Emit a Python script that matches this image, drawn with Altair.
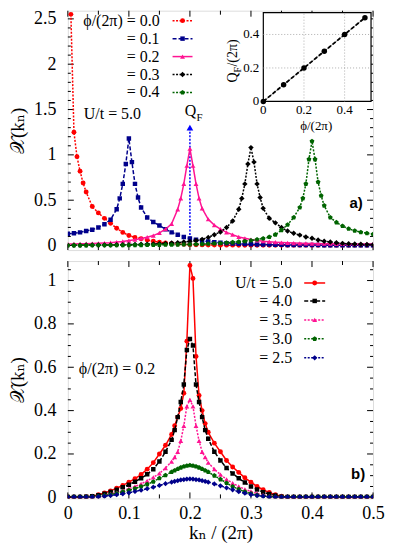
import altair as alt
import pandas as pd

FONT = "Liberation Serif, DejaVu Serif, serif"
W, H_TOP, H_BOT = 306, 240, 238

# ---------------- data: panel a) (U/t = 5.0) ----------------
K_BASE = [0.00, 0.01, 0.02, 0.03, 0.04, 0.05, 0.06, 0.07, 0.08, 0.09,
          0.10, 0.11, 0.12, 0.13, 0.14, 0.15, 0.16, 0.17, 0.18, 0.19,
          0.20, 0.21, 0.22, 0.23, 0.24, 0.25, 0.26, 0.27, 0.28, 0.29,
          0.30, 0.31, 0.32, 0.33, 0.34, 0.35, 0.36, 0.37, 0.38, 0.39,
          0.40, 0.41, 0.42, 0.43, 0.44, 0.45, 0.46, 0.47, 0.48, 0.49, 0.50]

PHI00 = [None, 1.25, 0.82, 0.59, 0.43, 0.36, 0.30, 0.245, 0.19, 0.145,
         0.11, 0.09, 0.075, 0.06, 0.047, 0.037, 0.029, 0.022, 0.017, 0.013,
         0.010, 0.008, 0.007, 0.006, 0.005, 0.004, 0.004, 0.004, 0.003, 0.003,
         0.003, 0.003, 0.003, 0.003, 0.002, 0.002, 0.002, 0.002, 0.002, 0.002,
         0.002, 0.002, 0.002, 0.002, 0.002, 0.002, 0.002, 0.002, 0.002, 0.002, 0.002]
PHI00_XK = [0.005, 0.015, 0.025]
PHI00_XV = [2.55, 0.98, 0.69]

PHI01 = [0.13, 0.135, 0.145, 0.16, 0.175, 0.20, 0.235, 0.285, 0.40, 0.68,
         1.18, 0.68, 0.42, 0.31, 0.26, 0.22, 0.18, 0.145, 0.12, 0.095,
         0.078, 0.064, 0.053, 0.044, 0.037, 0.031, 0.026, 0.022, 0.019, 0.016,
         0.014, 0.012, 0.011, 0.010, 0.009, 0.008, 0.007, 0.006, 0.006, 0.005,
         0.005, 0.005, 0.004, 0.004, 0.004, 0.004, 0.004, 0.004, 0.004, 0.004, 0.004]
PHI01_XK = [0.085, 0.095, 0.105, 0.115]
PHI01_XV = [0.52, 0.90, 0.92, 0.53]

PHI02 = [0.018, 0.018, 0.019, 0.020, 0.022, 0.025, 0.028, 0.032, 0.038, 0.045,
         0.055, 0.065, 0.078, 0.092, 0.11, 0.14, 0.18, 0.24, 0.40, 0.68,
         1.07, 0.68, 0.41, 0.29, 0.225, 0.18, 0.145, 0.12, 0.095, 0.08,
         0.066, 0.056, 0.048, 0.042, 0.037, 0.033, 0.030, 0.027, 0.025, 0.023,
         0.022, 0.021, 0.020, 0.020, 0.019, 0.019, 0.019, 0.018, 0.018, 0.018, 0.018]
PHI02_XK = [0.185, 0.195, 0.205, 0.215]
PHI02_XV = [0.52, 0.88, 0.88, 0.52]

PHI03 = [0.004, 0.004, 0.004, 0.005, 0.005, 0.006, 0.006, 0.007, 0.008, 0.009,
         0.010, 0.011, 0.013, 0.015, 0.017, 0.020, 0.023, 0.027, 0.032, 0.038,
         0.045, 0.055, 0.068, 0.09, 0.12, 0.15, 0.20, 0.27, 0.40, 0.68,
         1.08, 0.68, 0.41, 0.30, 0.25, 0.20, 0.16, 0.135, 0.115, 0.095,
         0.08, 0.06, 0.048, 0.038, 0.030, 0.024, 0.019, 0.016, 0.013, 0.011, 0.010]
PHI03_XK = [0.285, 0.295, 0.305, 0.315]
PHI03_XV = [0.52, 0.90, 0.92, 0.53]

PHI04 = [0.002, 0.002, 0.002, 0.002, 0.003, 0.003, 0.003, 0.003, 0.004, 0.004,
         0.004, 0.005, 0.005, 0.006, 0.006, 0.007, 0.008, 0.009, 0.010, 0.011,
         0.012, 0.014, 0.016, 0.019, 0.022, 0.026, 0.030, 0.035, 0.041, 0.048,
         0.056, 0.066, 0.078, 0.094, 0.12, 0.17, 0.23, 0.31, 0.42, 0.68,
         1.15, 0.70, 0.44, 0.31, 0.255, 0.215, 0.185, 0.163, 0.147, 0.135, 0.125]
PHI04_XK = [0.385, 0.395, 0.405, 0.415]
PHI04_XV = [0.52, 0.95, 0.95, 0.55]

PHI_LABELS = ["ϕ/(2π) = 0.0", "= 0.1", "= 0.2", "= 0.3", "= 0.4"]

# Q_F arrow position
QF_K = [0.2]
QF_TOP = [1.3]

# inset: Q_F vs phi
INSET_PHI = [0.0, 0.1, 0.2, 0.3, 0.4, 0.5]
INSET_QF = [0.0, 0.1, 0.2, 0.3, 0.4, 0.5]
INSET_TICKS = [0, 0.2, 0.4]

# ---------------- data: panel b) (phi/(2pi) = 0.2) ----------------
K_B = [0.00, 0.01, 0.02, 0.03, 0.04, 0.05, 0.06, 0.07, 0.08, 0.09,
       0.10, 0.11, 0.12, 0.13, 0.14, 0.15, 0.16, 0.17,
       0.175, 0.18, 0.185, 0.19, 0.195, 0.20, 0.205, 0.21, 0.215, 0.22, 0.225,
       0.23, 0.24, 0.25, 0.26, 0.27, 0.28, 0.29, 0.30, 0.31, 0.32,
       0.33, 0.34, 0.35, 0.36, 0.37, 0.38, 0.39, 0.40, 0.41, 0.42,
       0.43, 0.44, 0.45, 0.46, 0.47, 0.48, 0.49, 0.50]

U50 = [0.002, 0.002, 0.002, 0.003, 0.005, 0.012, 0.020, 0.030, 0.042, 0.055,
       0.070, 0.086, 0.105, 0.13, 0.16, 0.20, 0.24, 0.29,
       0.33, 0.37, 0.41, 0.48, 0.72, 1.07, 1.01, 0.65, 0.47, 0.40, 0.34,
       0.30, 0.25, 0.21, 0.17, 0.14, 0.115, 0.09, 0.07, 0.05, 0.035,
       0.022, 0.012, 0.005, 0.002, 0.002, 0.002, 0.002, 0.002, 0.002, 0.002,
       0.002, 0.002, 0.002, 0.002, 0.002, 0.002, 0.002, 0.002]
U40 = [0.002, 0.002, 0.002, 0.003, 0.005, 0.010, 0.017, 0.025, 0.035, 0.046,
       0.058, 0.072, 0.088, 0.106, 0.13, 0.165, 0.21, 0.265,
       0.31, 0.37, 0.44, 0.52, 0.68, 0.73, 0.70, 0.52, 0.44, 0.37, 0.31,
       0.27, 0.21, 0.17, 0.135, 0.11, 0.088, 0.068, 0.05, 0.036, 0.024,
       0.015, 0.008, 0.003, 0.002, 0.002, 0.002, 0.002, 0.002, 0.002, 0.002,
       0.002, 0.002, 0.002, 0.002, 0.002, 0.002, 0.002, 0.002]
U35 = [0.002, 0.002, 0.002, 0.002, 0.003, 0.006, 0.010, 0.016, 0.022, 0.030,
       0.040, 0.050, 0.062, 0.076, 0.092, 0.11, 0.135, 0.165,
       0.185, 0.21, 0.26, 0.33, 0.42, 0.45, 0.42, 0.33, 0.26, 0.21, 0.185,
       0.16, 0.13, 0.105, 0.083, 0.065, 0.05, 0.037, 0.027, 0.018, 0.011,
       0.006, 0.003, 0.002, 0.002, 0.002, 0.002, 0.002, 0.002, 0.002, 0.002,
       0.002, 0.002, 0.002, 0.002, 0.002, 0.002, 0.002, 0.002]
U30 = [0.002, 0.002, 0.002, 0.002, 0.003, 0.005, 0.008, 0.012, 0.018, 0.025,
       0.032, 0.040, 0.050, 0.060, 0.072, 0.088, 0.102, 0.117,
       0.124, 0.131, 0.137, 0.142, 0.146, 0.148, 0.146, 0.142, 0.137, 0.131, 0.124,
       0.117, 0.10, 0.083, 0.066, 0.05, 0.037, 0.026, 0.017, 0.010, 0.006,
       0.003, 0.002, 0.002, 0.002, 0.002, 0.002, 0.002, 0.002, 0.002, 0.002,
       0.002, 0.002, 0.002, 0.002, 0.002, 0.002, 0.002, 0.002]
U25 = [0.002, 0.002, 0.002, 0.002, 0.002, 0.003, 0.005, 0.008, 0.012, 0.016,
       0.021, 0.027, 0.033, 0.040, 0.047, 0.055, 0.063, 0.070,
       0.074, 0.077, 0.080, 0.082, 0.084, 0.085, 0.084, 0.082, 0.080, 0.077, 0.074,
       0.070, 0.062, 0.053, 0.044, 0.035, 0.026, 0.019, 0.013, 0.008, 0.005,
       0.002, 0.002, 0.002, 0.002, 0.002, 0.002, 0.002, 0.002, 0.002, 0.002,
       0.002, 0.002, 0.002, 0.002, 0.002, 0.002, 0.002, 0.002]

U_LABELS = ["U/t = 5.0", "= 4.0", "= 3.5", "= 3.0", "= 2.5"]

# ---------------- axis tick values ----------------
X_LABELS = [0, 0.1, 0.2, 0.3, 0.4, 0.5]
X_MINOR = [0.05, 0.15, 0.25, 0.35, 0.45]
TOP_Y_LABELS = [0, 0.5, 1, 1.5, 2, 2.5]
TOP_Y_MINOR = [0.1, 0.2, 0.3, 0.4, 0.6, 0.7, 0.8, 0.9, 1.1, 1.2, 1.3, 1.4,
               1.6, 1.7, 1.8, 1.9, 2.1, 2.2, 2.3, 2.4]
BOT_Y_LABELS = [0, 0.2, 0.4, 0.6, 0.8, 1]
BOT_Y_MINOR = [0.05, 0.1, 0.15, 0.25, 0.3, 0.35, 0.45, 0.5, 0.55, 0.65, 0.7,
               0.75, 0.85, 0.9, 0.95, 1.05]

ONE = pd.DataFrame({"z": [0]})
PENTAGON = "M0,-1L0.951,-0.309L0.588,0.809L-0.588,0.809L-0.951,-0.309Z"


def series_df(ks, vs, xk=(), xv=()):
    rows = [(k, v) for k, v in zip(ks, vs) if v is not None]
    rows += list(zip(xk, xv))
    rows.sort()
    return pd.DataFrame(rows, columns=["k", "v"])


X_SCALE = alt.Scale(domain=[0, 0.5], nice=False, zero=False)
Y_TOP = alt.Scale(domain=[-0.05, 2.59], nice=False, zero=False)
Y_BOT = alt.Scale(domain=[-0.005, 1.09], nice=False, zero=False)

common = dict(ticks=False, domain=False, grid=False, labelFont=FONT,
              labelColor="black", titleFont=FONT, titleColor="black",
              titleFontWeight="normal", labelOverlap=False, labelFlush=False,
              format="~g")
Y_AXIS_TOP = alt.Axis(values=TOP_Y_LABELS, title="𝒳(kₙ)", labelFontSize=18,
                      labelPadding=12, titleFontSize=19, titlePadding=6, **common)
Y_AXIS_BOT = alt.Axis(values=BOT_Y_LABELS, title="𝒳(kₙ)", labelFontSize=18,
                      labelPadding=12, titleFontSize=19, titlePadding=6, **common)
X_AXIS_BOT = alt.Axis(values=X_LABELS, title="kₙ / (2π)", labelFontSize=18,
                      labelPadding=6, titleFontSize=19, titlePadding=1, **common)


def dash_kw(dash):
    return {"strokeDash": dash} if dash else {}


def curve(df, color, dash, shape, size, yscale, xaxis, yaxis):
    base = alt.Chart(df).encode(
        x=alt.X("k:Q", scale=X_SCALE, axis=xaxis),
        y=alt.Y("v:Q", scale=yscale, axis=yaxis),
    )
    line = base.mark_line(color=color, strokeWidth=1.5, clip=True, **dash_kw(dash))
    pts = base.mark_point(shape=shape, filled=True, size=size, color=color,
                          opacity=1, clip=True)
    return [line, pts]


def ticks(H, yscale, xaxis, yaxis, ymaj, ymin):
    out = []
    for vals, ln in ((X_LABELS, 6), (X_MINOR, 4)):
        d = pd.DataFrame({"t": vals})
        for y0, y1 in ((H, H - ln), (0, ln)):
            out.append(alt.Chart(d).mark_rule(color="black", strokeWidth=1).encode(
                x=alt.X("t:Q", scale=X_SCALE, axis=xaxis),
                y=alt.value(y0), y2=alt.value(y1)))
    for vals, ln in ((ymaj, 6), (ymin, 3)):
        d = pd.DataFrame({"t": vals})
        for x0, x1 in ((0, ln), (W, W - ln)):
            out.append(alt.Chart(d).mark_rule(color="black", strokeWidth=1).encode(
                y=alt.Y("t:Q", scale=yscale, axis=yaxis),
                x=alt.value(x0), x2=alt.value(x1)))
    return out


def text(label, x, y, size=16, align="left", font=FONT, weight="normal",
         angle=0, baseline="middle"):
    return alt.Chart(ONE).mark_text(
        text=label, align=align, baseline=baseline, font=font, fontSize=size,
        fontWeight=weight, color="black", angle=angle
    ).encode(x=alt.value(x), y=alt.value(y))


def legend_row(label, color, dash, shape, size, y, xt, xl0, xl1):
    t = text(label, xt, y, align="right")
    ln = alt.Chart(ONE).mark_rule(color=color, strokeWidth=1.5, **dash_kw(dash)).encode(
        x=alt.value(xl0), x2=alt.value(xl1), y=alt.value(y))
    pt = alt.Chart(ONE).mark_point(shape=shape, filled=True, size=size, color=color,
                                   opacity=1).encode(
        x=alt.value((xl0 + xl1) / 2), y=alt.value(y))
    return [t, ln, pt]


# ---------------- panel a ----------------
TOP_STYLE = [
    (PHI00, PHI00_XK, PHI00_XV, "#FF0000", [2, 1.5], "circle", 24),
    (PHI01, PHI01_XK, PHI01_XV, "#00008B", [4, 2], "square", 20),
    (PHI02, PHI02_XK, PHI02_XV, "#FF1493", None, "triangle-up", 24),
    (PHI03, PHI03_XK, PHI03_XV, "#000000", [2, 1.5], "diamond", 30),
    (PHI04, PHI04_XK, PHI04_XV, "#006400", [2, 1.5], PENTAGON, 26),
]
top_layers = []
top_layers += ticks(H_TOP, Y_TOP, None, Y_AXIS_TOP, TOP_Y_LABELS, TOP_Y_MINOR)

qf = pd.DataFrame({"k": QF_K, "top": QF_TOP, "zero": [0.0]})
top_layers.append(alt.Chart(qf).mark_rule(color="#0000FF", strokeWidth=1.5,
                                          strokeDash=[2, 1.5]).encode(
    x=alt.X("k:Q", scale=X_SCALE, axis=None),
    y=alt.Y("zero:Q", scale=Y_TOP, axis=Y_AXIS_TOP),
    y2="top:Q"))
top_layers.append(alt.Chart(qf).mark_point(shape="triangle-up", filled=True, size=45,
                                           color="#0000FF", opacity=1).encode(
    x=alt.X("k:Q", scale=X_SCALE, axis=None),
    y=alt.Y("top:Q", scale=Y_TOP, axis=Y_AXIS_TOP)))

for vals, xk, xv, color, dash, shape, size in TOP_STYLE:
    top_layers += curve(series_df(K_BASE, vals, xk, xv), color, dash, shape, size,
                        Y_TOP, None, Y_AXIS_TOP)

rows_top = [10, 28, 46, 64, 82]
for (vals, xk, xv, color, dash, shape, size), lab, ry in zip(TOP_STYLE, PHI_LABELS, rows_top):
    top_layers += legend_row(lab, color, dash, shape, size, ry, 92, 105, 125)

top_layers.append(text("U/t = 5.0", 16, 104))
top_layers.append(text("Q", 123, 101, size=16, align="center"))
top_layers.append(text("F", 132, 108, size=11, align="center"))
top_layers.append(text("a)", 289, 193, size=15, align="center",
                       font="Liberation Sans, Arial, sans-serif", weight="bold"))

main_top = alt.layer(*top_layers)

# inset
IX0, IX1, IY0, IY1 = 196, 304, 91, 2
INSET_X = alt.Scale(domain=[0, 0.53], range=[IX0, IX1], nice=False, zero=False)
INSET_Y = alt.Scale(domain=[0, 0.53], range=[IY0, IY1], nice=False, zero=False)
ins = []
ins.append(alt.Chart(ONE).mark_rect(fill="white", stroke="black", strokeWidth=1.2).encode(
    x=alt.value(IX0), x2=alt.value(IX1), y=alt.value(IY1), y2=alt.value(IY0)))
gd = pd.DataFrame({"t": INSET_TICKS[1:]})
ins.append(alt.Chart(gd).mark_rule(color="#999999", strokeWidth=0.8, strokeDash=[1, 2]).encode(
    x=alt.X("t:Q", scale=INSET_X, axis=None), y=alt.value(IY0), y2=alt.value(IY1)))
ins.append(alt.Chart(gd).mark_rule(color="#999999", strokeWidth=0.8, strokeDash=[1, 2]).encode(
    y=alt.Y("t:Q", scale=INSET_Y, axis=None), x=alt.value(IX0), x2=alt.value(IX1)))
idf = pd.DataFrame({"phi": INSET_PHI, "qf": INSET_QF})
ibase = alt.Chart(idf).encode(x=alt.X("phi:Q", scale=INSET_X, axis=None),
                              y=alt.Y("qf:Q", scale=INSET_Y, axis=None))
ins.append(ibase.mark_line(color="#888888", strokeWidth=1))
ins.append(ibase.mark_line(color="black", strokeWidth=1.8, strokeDash=[4, 2]))
ins.append(ibase.mark_point(shape="circle", filled=True, size=30, color="black", opacity=1))
td = pd.DataFrame({"t": INSET_TICKS})
ins.append(alt.Chart(td).mark_text(font=FONT, fontSize=13, baseline="middle",
                                   color="black").encode(
    x=alt.X("t:Q", scale=INSET_X, axis=None), y=alt.value(100),
    text=alt.Text("t:Q", format="~g")))
ins.append(alt.Chart(td).mark_text(font=FONT, fontSize=13, baseline="middle",
                                   align="right", color="black").encode(
    y=alt.Y("t:Q", scale=INSET_Y, axis=None), x=alt.value(192),
    text=alt.Text("t:Q", format="~g")))
ins.append(text("ϕ/(2π)", 249, 116, size=13, align="center"))
ins.append(text("Q", 166, 72, size=14, angle=270))
ins.append(text("F", 171, 62, size=10, angle=270))
ins.append(text("/(2π)", 166, 56, size=14, angle=270))
inset = alt.layer(*ins)

panel_a = alt.layer(main_top, inset).resolve_scale(
    x="independent", y="independent").properties(width=W, height=H_TOP)

# ---------------- panel b ----------------
BOT_STYLE = [
    (U50, "#FF0000", None, "circle", 24),
    (U40, "#000000", [4, 2], "square", 20),
    (U35, "#FF1493", [2, 1.5], "triangle-up", 24),
    (U30, "#006400", [2, 1.5], PENTAGON, 26),
    (U25, "#00008B", [2, 1.5], "diamond", 28),
]
bot_layers = []
bot_layers += ticks(H_BOT, Y_BOT, X_AXIS_BOT, Y_AXIS_BOT, BOT_Y_LABELS, BOT_Y_MINOR)
for vals, color, dash, shape, size in BOT_STYLE:
    bot_layers += curve(series_df(K_B, vals), color, dash, shape, size,
                        Y_BOT, X_AXIS_BOT, Y_AXIS_BOT)
rows_bot = [22, 40, 59, 78, 97]
for (vals, color, dash, shape, size), lab, ry in zip(BOT_STYLE, U_LABELS, rows_bot):
    bot_layers += legend_row(lab, color, dash, shape, size, ry, 225, 237, 258)
bot_layers.append(text("ϕ/(2π) = 0.2", 11, 108))
bot_layers.append(text("b)", 291, 214, size=15, align="center",
                       font="Liberation Sans, Arial, sans-serif", weight="bold"))

panel_b = alt.layer(*bot_layers).properties(width=W, height=H_BOT)

chart = alt.vconcat(panel_a, panel_b, spacing=5).properties(
    padding={"left": 0, "top": 0, "right": 0, "bottom": 0}
).configure_view(
    stroke="black", strokeWidth=1.2
).configure(background="white")

chart.save("out.html", embed_options={"renderer": "svg", "actions": False})
